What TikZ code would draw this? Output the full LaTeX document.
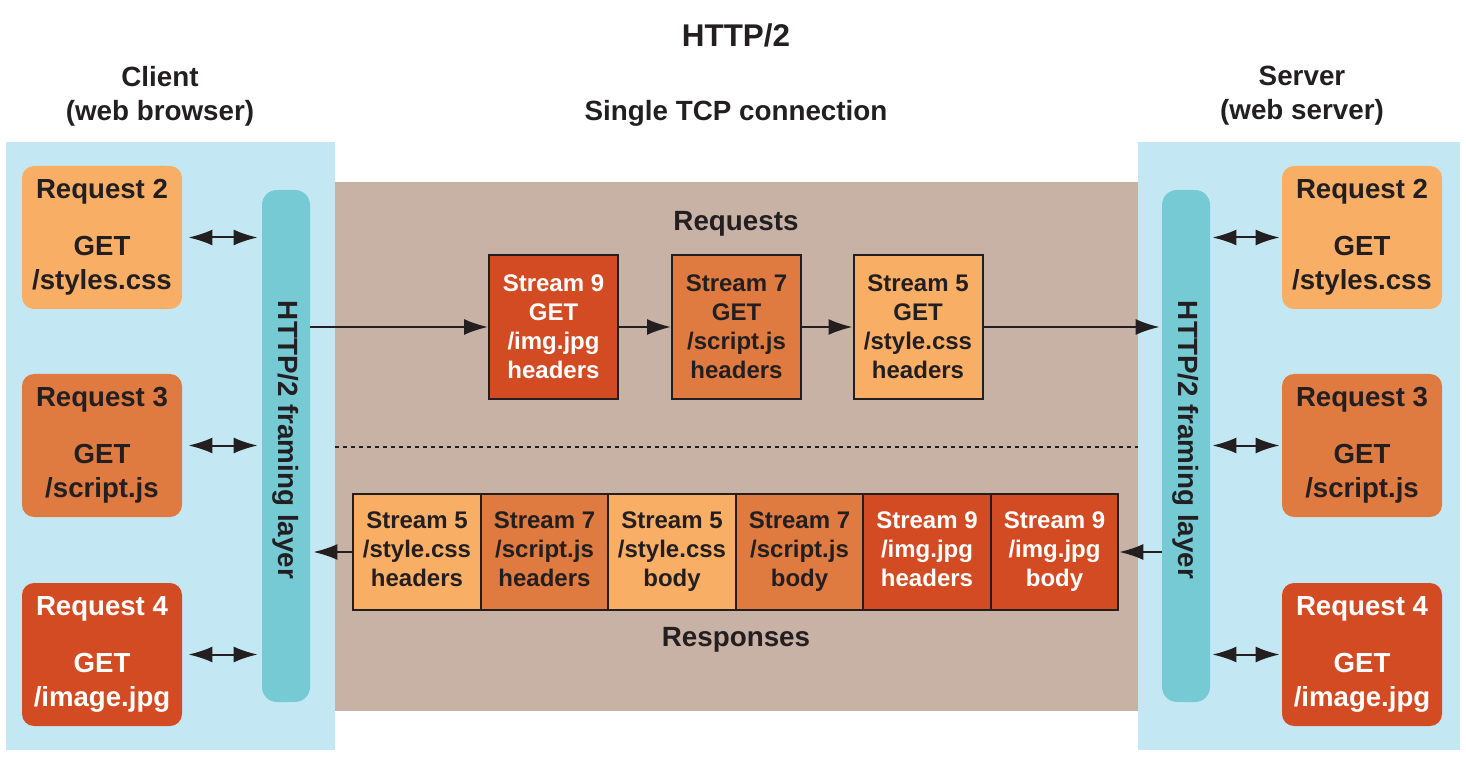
\documentclass[tikz,border=0pt]{standalone}
\usepackage{fontspec}
\setmainfont{Liberation Sans}
\usetikzlibrary{arrows.meta}
\definecolor{ink}{HTML}{231F20}
\definecolor{panelblue}{HTML}{C4E8F3}
\definecolor{tan}{HTML}{C7B2A5}
\definecolor{teal}{HTML}{76CAD4}
\definecolor{lorange}{HTML}{F9AE66}
\definecolor{morange}{HTML}{DF7A40}
\definecolor{rorange}{HTML}{D34B22}
\tikzset{
  panel/.style={fill=panelblue, minimum width=164.5pt, minimum height=304pt, inner sep=0pt},
  tcpbox/.style={fill=tan, minimum width=401.5pt, minimum height=264.5pt, inner sep=0pt},
  bar/.style={fill=teal, rounded corners=7.5pt, minimum width=24pt, minimum height=256pt, inner sep=0pt},
  bartext/.style={rotate=-90, text=ink, font=\fontsize{13.9}{17}\selectfont\bfseries},
  reqbox/.style={rounded corners=6pt, minimum width=80pt, minimum height=71.5pt, align=center, inner sep=0pt, font=\fontsize{13.8}{17}\selectfont\bfseries},
  strbox/.style={draw=ink, line width=1pt, minimum width=64.5pt, minimum height=72pt, align=center, inner sep=0pt, font=\fontsize{12}{14.5}\selectfont\bfseries},
  respbox/.style={draw=ink, line width=1pt, outer sep=0pt, minimum width=63.75pt, minimum height=58pt, align=center, inner sep=0pt, font=\fontsize{12}{14.5}\selectfont\bfseries},
  light/.style={fill=lorange, text=ink},
  mid/.style={fill=morange, text=ink},
  hot/.style={fill=rorange, text=white},
  label/.style={text=ink, align=center, font=\fontsize{13.9}{17}\selectfont\bfseries},
  arr/.style={draw=ink, line width=1pt, -{Latex[length=12pt,width=8pt]}},
  dbl/.style={draw=ink, line width=1pt, {Latex[length=12pt,width=8pt]}-{Latex[length=12pt,width=8pt]}},
  sep/.style={draw=ink, line width=1pt, dash pattern=on 2pt off 2pt}
}
\begin{document}
\begin{tikzpicture}[x=0.5pt,y=-0.5pt]
\useasboundingbox (0,0) rectangle (1466,764);
% backgrounds
\node[tcpbox] (tcp) at (736.5,446.5) {};
\node[panel] (lpanel) at (170.5,446) {};
\node[panel, minimum width=161pt] (rpanel) at (1299,446) {};
% titles
\node[label, font=\fontsize{15.7}{19}\selectfont\bfseries] (title) at (736,35) {HTTP/2};
\node[label] (client) at (160,96) {Client\\(web browser)};
\node[label] (server) at (1302,96) {Server\\(web server)};
\node[label] (single) at (736,113) {Single TCP connection};
\node[label] (reqlbl) at (736,223.5) {Requests};
\node[label] (resplbl) at (736,639.5) {Responses};
% framing bars
\node[bar] (lbar) at (286,446) {};
\node[bartext] (lbartxt) at (286,440) {HTTP/2 framing layer};
\node[bar] (rbar) at (1186,446) {};
\node[bartext] (rbartxt) at (1186,440) {HTTP/2 framing layer};
% client requests
\node[reqbox, light] (l2) at (102,237.5) {Request 2\\[11.5pt]GET\\/styles.css};
\node[reqbox, mid] (l3) at (102,445.5) {Request 3\\[11.5pt]GET\\/script.js};
\node[reqbox, hot] (l4) at (102,654.5) {Request 4\\[11.5pt]GET\\/image.jpg};
% server requests
\node[reqbox, light] (r2) at (1362,237.5) {Request 2\\[11.5pt]GET\\/styles.css};
\node[reqbox, mid] (r3) at (1362,445.5) {Request 3\\[11.5pt]GET\\/script.js};
\node[reqbox, hot] (r4) at (1362,654.5) {Request 4\\[11.5pt]GET\\/image.jpg};
% double arrows
\foreach \b in {l2,l3,l4} {
  \draw[dbl, shorten <=3pt, shorten >=2pt] (\b.east) -- (\b.east -| lbar.west);
}
\foreach \b in {r2,r3,r4} {
  \draw[dbl, shorten <=1pt, shorten >=1pt] (\b.west -| rbar.east) -- (\b.west);
}
% request streams
\node[strbox, hot] (s9) at (553.5,327) {Stream 9\\GET\\/img.jpg\\headers};
\node[strbox, mid] (s7) at (736.5,327) {Stream 7\\GET\\/script.js\\headers};
\node[strbox, light] (s5) at (918,327) {Stream 5\\GET\\/style.css\\headers};
\draw[arr] (s9.west -| lbar.east) -- (s9.west);
\draw[arr] (s9.east) -- (s7.west);
\draw[arr] (s7.east) -- (s5.west);
\draw[arr, shorten >=1pt] (s5.east) -- (s5.east -| rbar.west);
% separator
\draw[sep] (tcp.west) -- (tcp.east);
% response frames
\node[respbox, light] (f1) at (417,552) {\strut Stream 5\\/style.css\\headers\strut};
\node[respbox, mid, anchor=west] (f2) at (f1.east) {\strut Stream 7\\/script.js\\headers\strut};
\node[respbox, light, anchor=west] (f3) at (f2.east) {\strut Stream 5\\/style.css\\body\strut};
\node[respbox, mid, anchor=west] (f4) at (f3.east) {\strut Stream 7\\/script.js\\body\strut};
\node[respbox, hot, anchor=west] (f5) at (f4.east) {\strut Stream 9\\/img.jpg\\headers\strut};
\node[respbox, hot, anchor=west] (f6) at (f5.east) {\strut Stream 9\\/img.jpg\\body\strut};
\draw[arr, shorten >=0.5pt] (f6.east -| rbar.west) -- (f6.east);
\draw[arr, shorten >=1.5pt] (f1.west) -- (f1.west -| lbar.east);
\end{tikzpicture}
\end{document}
